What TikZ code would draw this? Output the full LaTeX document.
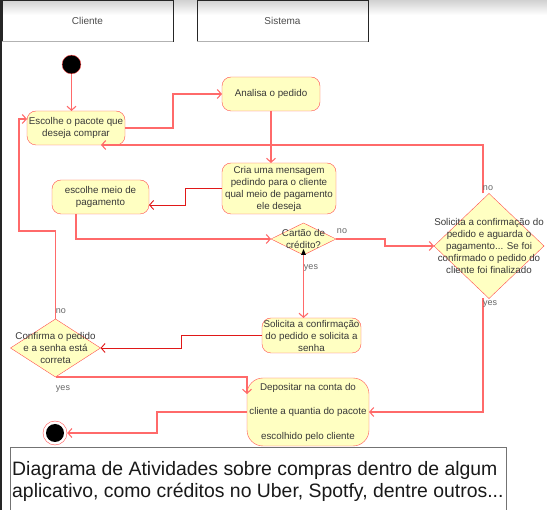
\documentclass[tikz,border=0pt]{standalone}
\usepackage{fontspec}
\setmainfont{Liberation Sans}
\usetikzlibrary{shapes.geometric,arrows.meta}

\definecolor{umlred}{HTML}{FF4F4F}
\definecolor{umlline}{HTML}{FF6A6A}
\definecolor{umldark}{HTML}{E01818}
\definecolor{umlfill}{HTML}{FFFFC2}
\definecolor{umltext}{HTML}{383838}

\begin{document}
\begin{tikzpicture}[x=1pt,y=-1pt,
	action/.style={draw=umlred, fill=umlfill, rounded corners=9pt, inner sep=0pt, outer sep=0pt, align=center, text=umltext, font=\fontsize{9.8}{12}\selectfont},
	decision/.style={diamond, draw=umlred, fill=umlfill, inner sep=0pt, outer sep=0pt},
	dtext/.style={align=center, inner sep=0pt, text=umltext, font=\fontsize{9.8}{12}\selectfont},
	flow/.style={umlline, line width=1.1pt, -{Straight Barb[length=4pt,width=9pt]}},
	guard/.style={inner sep=0pt, text=black!60, font=\fontsize{9}{10}\selectfont},
	lane/.style={draw=black!85, line width=0.9pt, minimum width=171pt, minimum height=41pt, inner sep=0pt, text=black!70, font=\fontsize{10}{12}\selectfont}]% {{{ compras
	\useasboundingbox (0,0) rectangle (547,510);
	\shade[top color=black!18, bottom color=white] (0,0) rectangle (547,15);
	\fill[black!85] (0,0) rectangle (2.3,510);

	% raias
	\node[lane] (cliente) at (87.5,20.5) {Cliente};
	\node[lane] (sistema) at (282.5,20.5) {Sistema};
	\draw[black!30, line width=1.2pt] (cliente.south west) -- (cliente.south east);
	\draw[black!30, line width=1.2pt] (sistema.south west) -- (sistema.south east);

	% atividades
	\node[circle, fill=black, draw=umlred, minimum size=18.8pt, inner sep=0pt] (inicio) at (71.5,64.5) {};
	\node[action, minimum width=98pt, minimum height=34pt] (esc) at (76,128) {Escolhe o pacote que\\deseja comprar};
	\node[action, minimum width=98pt, minimum height=34pt] (analisa) at (271,94) {Analisa o pedido};
	\node[action, minimum width=114pt, minimum height=51pt] (cria) at (279,188.5) {Cria uma mensagem\\pedindo para o cliente\\qual meio de pagamento\\ele deseja};
	\node[action, minimum width=97pt, minimum height=34pt] (meio) at (100.5,197) {escolhe meio de\\pagamento};
	\node[decision, minimum width=65pt, minimum height=32pt] (cartao) at (303.5,239) {};
	\node[dtext] (cartaotxt) at (cartao) {Cartão de\\crédito?};
	\node[decision, minimum width=110pt, minimum height=105pt] (solic) at (489,246) {};
	\node[dtext] (solictxt) at (solic) {Solicita a confirmação do\\pedido e aguarda o\\pagamento... Se foi\\confirmado o pedido do\\cliente foi finalizado};
	\node[action, minimum width=99pt, minimum height=35pt] (senha) at (311.5,335.5) {Solicita a confirmação\\do pedido e solicita a\\senha};
	\node[decision, minimum width=90pt, minimum height=58pt] (conf) at (55.5,348) {};
	\node[dtext] (conftxt) at (conf) {Confirma o pedido\\e a senha está\\correta};
	\node[action, rounded corners=16pt, minimum width=122pt, minimum height=68pt, font=\fontsize{9.8}{24.5}\selectfont] (dep) at (308,412) {Depositar na conta do\\cliente a quantia do pacote\\escolhido pelo cliente};
	\node[circle, draw=umlred, fill=white, minimum size=24pt, inner sep=0pt] (fim) at (55,433) {};
	\fill[black] (fim) circle (9);

	% fluxos
	\draw[flow] (inicio.south) -- (inicio.south |- esc.north);
	\draw[flow] (esc.east) -- ++(48,0) |- (analisa.west);
	\draw[flow] (analisa.south) -- (analisa.south |- cria.north);
	\draw[flow, umldark, line width=0.9pt] (cria.west) -- ++(-37,0) |- ([yshift=-8pt]meio.east);
	\draw[flow] ([xshift=-24.5pt]meio.south) |- (cartao.west);
	\draw[flow] (cartao.east) -- ++(49,0) |- (solic.west);
	\draw[flow] ([xshift=-6pt]solic.north) |- ([xshift=25pt]esc.south);
	\draw[flow] ([xshift=-6pt]solic.south) |- (dep.east);
	\draw[flow] (cartao.south) -- (cartao.south |- senha.north);
	\fill[black] (301,255) -- (303.5,249) -- (306,255) -- cycle;
	\draw[flow, umldark, line width=0.9pt] (senha.west) -- ++(-81,0) |- (conf.east);
	\draw[flow] (conf.north) -- ++(0,-88) -- ++(-36.5,0) |- ([yshift=9pt]esc.west);
	\draw[flow] (conf.south) -- (conf.south -| dep.west) -- ++(0,17);
	\draw[flow] (dep.west) -- ++(-90,0) |- (fim.east);

	\node[guard] (g1) at (342,231) {no};
	\node[guard] (g2) at (311,268) {yes};
	\node[guard] (g3) at (488,188) {no};
	\node[guard] (g4) at (490,304) {yes};
	\node[guard] (g5) at (61,311) {no};
	\node[guard] (g6) at (63,389.5) {yes};

	% legenda
	\draw[black!55, line width=0.8pt] (10.5,515) -- (10.5,447) -- (506,447) -- (506,515);
	\node[anchor=north west, align=left, inner sep=0pt, text=black!90, font=\fontsize{19.4}{22}\selectfont] (legenda) at (12,461) {Diagrama de Atividades sobre compras dentro de algum\\aplicativo, como créditos no Uber, Spotfy, dentre outros...};
\end{tikzpicture}% }}}
\end{document}
